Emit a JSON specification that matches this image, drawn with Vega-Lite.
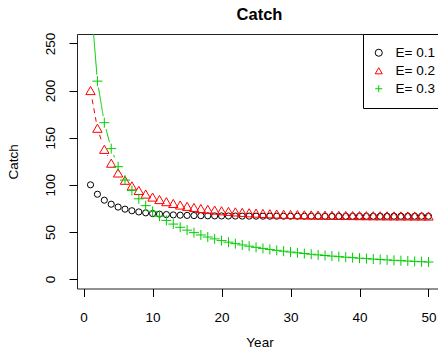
{
  "$schema": "https://vega.github.io/schema/vega-lite/v6.json",
  "autosize": {"type": "none"},
  "padding": {"left": 77, "top": 34, "right": 0, "bottom": 71},
  "width": 365,
  "height": 254.5,
  "background": "white",
  "title": {"text": "Catch", "fontSize": 16.5, "fontWeight": "bold", "font": "Liberation Sans", "anchor": "middle", "offset": 9, "color": "black"},
  "config": {
    "view": {"stroke": "#222", "strokeWidth": 1},
    "axis": {"labelFont": "Liberation Sans", "labelFontSize": 13.5, "titleFont": "Liberation Sans", "titleFontSize": 13.5, "titleFontWeight": "normal", "labelColor": "black", "titleColor": "black", "domain": false, "grid": false, "labelFlush": false, "labelOverlap": false}
  },
  "datasets": {
    "catch": [
      {"Year":1,"E":"E= 0.1","Catch":100},{"Year":2,"E":"E= 0.1","Catch":90},{"Year":3,"E":"E= 0.1","Catch":83.7},{"Year":4,"E":"E= 0.1","Catch":79.42},{"Year":5,"E":"E= 0.1","Catch":76.38},{"Year":6,"E":"E= 0.1","Catch":74.16},{"Year":7,"E":"E= 0.1","Catch":72.49},{"Year":8,"E":"E= 0.1","Catch":71.22},{"Year":9,"E":"E= 0.1","Catch":70.25},{"Year":10,"E":"E= 0.1","Catch":69.5},
      {"Year":11,"E":"E= 0.1","Catch":68.91},{"Year":12,"E":"E= 0.1","Catch":68.44},{"Year":13,"E":"E= 0.1","Catch":68.08},{"Year":14,"E":"E= 0.1","Catch":67.79},{"Year":15,"E":"E= 0.1","Catch":67.56},{"Year":16,"E":"E= 0.1","Catch":67.38},{"Year":17,"E":"E= 0.1","Catch":67.24},{"Year":18,"E":"E= 0.1","Catch":67.12},{"Year":19,"E":"E= 0.1","Catch":67.03},{"Year":20,"E":"E= 0.1","Catch":66.96},
      {"Year":21,"E":"E= 0.1","Catch":66.9},{"Year":22,"E":"E= 0.1","Catch":66.85},{"Year":23,"E":"E= 0.1","Catch":66.81},{"Year":24,"E":"E= 0.1","Catch":66.79},{"Year":25,"E":"E= 0.1","Catch":66.76},{"Year":26,"E":"E= 0.1","Catch":66.74},{"Year":27,"E":"E= 0.1","Catch":66.73},{"Year":28,"E":"E= 0.1","Catch":66.72},{"Year":29,"E":"E= 0.1","Catch":66.71},{"Year":30,"E":"E= 0.1","Catch":66.7},
      {"Year":31,"E":"E= 0.1","Catch":66.7},{"Year":32,"E":"E= 0.1","Catch":66.69},{"Year":33,"E":"E= 0.1","Catch":66.69},{"Year":34,"E":"E= 0.1","Catch":66.68},{"Year":35,"E":"E= 0.1","Catch":66.68},{"Year":36,"E":"E= 0.1","Catch":66.67},{"Year":37,"E":"E= 0.1","Catch":66.67},{"Year":38,"E":"E= 0.1","Catch":66.67},{"Year":39,"E":"E= 0.1","Catch":66.67},{"Year":40,"E":"E= 0.1","Catch":66.67},
      {"Year":41,"E":"E= 0.1","Catch":66.67},{"Year":42,"E":"E= 0.1","Catch":66.67},{"Year":43,"E":"E= 0.1","Catch":66.67},{"Year":44,"E":"E= 0.1","Catch":66.67},{"Year":45,"E":"E= 0.1","Catch":66.67},{"Year":46,"E":"E= 0.1","Catch":66.67},{"Year":47,"E":"E= 0.1","Catch":66.67},{"Year":48,"E":"E= 0.1","Catch":66.67},{"Year":49,"E":"E= 0.1","Catch":66.67},{"Year":50,"E":"E= 0.1","Catch":66.67},
      {"Year":1,"E":"E= 0.2","Catch":200},{"Year":2,"E":"E= 0.2","Catch":160},{"Year":3,"E":"E= 0.2","Catch":137.6},{"Year":4,"E":"E= 0.2","Catch":122.96},{"Year":5,"E":"E= 0.2","Catch":112.58},{"Year":6,"E":"E= 0.2","Catch":104.82},{"Year":7,"E":"E= 0.2","Catch":98.82},{"Year":8,"E":"E= 0.2","Catch":94.06},{"Year":9,"E":"E= 0.2","Catch":90.19},{"Year":10,"E":"E= 0.2","Catch":87.01},
      {"Year":11,"E":"E= 0.2","Catch":84.36},{"Year":12,"E":"E= 0.2","Catch":82.12},{"Year":13,"E":"E= 0.2","Catch":80.21},{"Year":14,"E":"E= 0.2","Catch":78.58},{"Year":15,"E":"E= 0.2","Catch":77.18},{"Year":16,"E":"E= 0.2","Catch":75.96},{"Year":17,"E":"E= 0.2","Catch":74.9},{"Year":18,"E":"E= 0.2","Catch":73.98},{"Year":19,"E":"E= 0.2","Catch":73.17},{"Year":20,"E":"E= 0.2","Catch":72.45},
      {"Year":21,"E":"E= 0.2","Catch":71.82},{"Year":22,"E":"E= 0.2","Catch":71.27},{"Year":23,"E":"E= 0.2","Catch":70.78},{"Year":24,"E":"E= 0.2","Catch":70.34},{"Year":25,"E":"E= 0.2","Catch":69.95},{"Year":26,"E":"E= 0.2","Catch":69.61},{"Year":27,"E":"E= 0.2","Catch":69.3},{"Year":28,"E":"E= 0.2","Catch":69.03},{"Year":29,"E":"E= 0.2","Catch":68.78},{"Year":30,"E":"E= 0.2","Catch":68.56},
      {"Year":31,"E":"E= 0.2","Catch":68.37},{"Year":32,"E":"E= 0.2","Catch":68.19},{"Year":33,"E":"E= 0.2","Catch":68.04},{"Year":34,"E":"E= 0.2","Catch":67.9},{"Year":35,"E":"E= 0.2","Catch":67.77},{"Year":36,"E":"E= 0.2","Catch":67.66},{"Year":37,"E":"E= 0.2","Catch":67.56},{"Year":38,"E":"E= 0.2","Catch":67.47},{"Year":39,"E":"E= 0.2","Catch":67.39},{"Year":40,"E":"E= 0.2","Catch":67.31},
      {"Year":41,"E":"E= 0.2","Catch":67.25},{"Year":42,"E":"E= 0.2","Catch":67.19},{"Year":43,"E":"E= 0.2","Catch":67.14},{"Year":44,"E":"E= 0.2","Catch":67.09},{"Year":45,"E":"E= 0.2","Catch":67.05},{"Year":46,"E":"E= 0.2","Catch":67.01},{"Year":47,"E":"E= 0.2","Catch":66.97},{"Year":48,"E":"E= 0.2","Catch":66.94},{"Year":49,"E":"E= 0.2","Catch":66.92},{"Year":50,"E":"E= 0.2","Catch":66.89},
      {"Year":1,"E":"E= 0.3","Catch":300},{"Year":2,"E":"E= 0.3","Catch":210},{"Year":3,"E":"E= 0.3","Catch":165.9},{"Year":4,"E":"E= 0.3","Catch":138.38},{"Year":5,"E":"E= 0.3","Catch":119.23},{"Year":6,"E":"E= 0.3","Catch":105.01},{"Year":7,"E":"E= 0.3","Catch":93.99},{"Year":8,"E":"E= 0.3","Catch":85.15},{"Year":9,"E":"E= 0.3","Catch":77.9},{"Year":10,"E":"E= 0.3","Catch":71.83},
      {"Year":11,"E":"E= 0.3","Catch":66.67},{"Year":12,"E":"E= 0.3","Catch":62.23},{"Year":13,"E":"E= 0.3","Catch":58.36},{"Year":14,"E":"E= 0.3","Catch":54.95},{"Year":15,"E":"E= 0.3","Catch":51.93},{"Year":16,"E":"E= 0.3","Catch":49.23},{"Year":17,"E":"E= 0.3","Catch":46.81},{"Year":18,"E":"E= 0.3","Catch":44.62},{"Year":19,"E":"E= 0.3","Catch":42.63},{"Year":20,"E":"E= 0.3","Catch":40.81},
      {"Year":21,"E":"E= 0.3","Catch":39.15},{"Year":22,"E":"E= 0.3","Catch":37.61},{"Year":23,"E":"E= 0.3","Catch":36.2},{"Year":24,"E":"E= 0.3","Catch":34.89},{"Year":25,"E":"E= 0.3","Catch":33.67},{"Year":26,"E":"E= 0.3","Catch":32.54},{"Year":27,"E":"E= 0.3","Catch":31.48},{"Year":28,"E":"E= 0.3","Catch":30.49},{"Year":29,"E":"E= 0.3","Catch":29.56},{"Year":30,"E":"E= 0.3","Catch":28.68},
      {"Year":31,"E":"E= 0.3","Catch":27.86},{"Year":32,"E":"E= 0.3","Catch":27.09},{"Year":33,"E":"E= 0.3","Catch":26.35},{"Year":34,"E":"E= 0.3","Catch":25.66},{"Year":35,"E":"E= 0.3","Catch":25},{"Year":36,"E":"E= 0.3","Catch":24.37},{"Year":37,"E":"E= 0.3","Catch":23.78},{"Year":38,"E":"E= 0.3","Catch":23.22},{"Year":39,"E":"E= 0.3","Catch":22.68},{"Year":40,"E":"E= 0.3","Catch":22.16},
      {"Year":41,"E":"E= 0.3","Catch":21.67},{"Year":42,"E":"E= 0.3","Catch":21.2},{"Year":43,"E":"E= 0.3","Catch":20.75},{"Year":44,"E":"E= 0.3","Catch":20.32},{"Year":45,"E":"E= 0.3","Catch":19.91},{"Year":46,"E":"E= 0.3","Catch":19.51},{"Year":47,"E":"E= 0.3","Catch":19.13},{"Year":48,"E":"E= 0.3","Catch":18.77},{"Year":49,"E":"E= 0.3","Catch":18.41},{"Year":50,"E":"E= 0.3","Catch":18.07}
    ]
  },
  "data": {"name": "catch"},
  "encoding": {
    "x": {"field": "Year", "type": "quantitative", "scale": {"domain": [-0.96, 51.96], "nice": false, "zero": false},
      "axis": {"values": [0, 10, 20, 30, 40, 50], "title": "Year", "ticks": true, "tickColor": "#000000", "tickWidth": 1, "tickSize": 8, "labelBaseline": "top", "labelPadding": 14, "titlePadding": 11}},
    "y": {"field": "Catch", "type": "quantitative", "scale": {"domain": [-10, 260], "nice": false, "zero": false},
      "axis": {"values": [0, 50, 100, 150, 200, 250], "title": "Catch", "ticks": true, "tickColor": "#000000", "tickWidth": 1, "tickSize": 8, "labelAngle": -90, "labelAlign": "center", "labelBaseline": "bottom", "labelPadding": 12, "titlePadding": 23}}
  },
  "layer": [
    {
      "transform": [{"filter": "datum.E !== 'E= 0.1'"}],
      "mark": {"type": "line", "clip": true, "strokeWidth": 1},
      "encoding": {
        "detail": {"field": "E"},
        "stroke": {"condition": {"test": "datum.E === 'E= 0.2'", "value": "#FF0000"}, "value": "#00CD00"},
        "strokeDash": {"condition": {"test": "datum.E === 'E= 0.2'", "value": [5, 4]}, "value": [1, 0]}
      }
    },
    {
      "transform": [{"filter": "datum.E !== 'E= 0.1'"}],
      "mark": {"type": "point", "clip": true, "filled": true, "shape": "circle", "size": 180, "color": "white", "opacity": 1, "strokeWidth": 0}
    },
    {
      "mark": {"type": "point", "clip": true, "filled": false, "strokeWidth": 1, "opacity": 1},
      "encoding": {
        "color": {"field": "E", "type": "nominal",
          "scale": {"domain": ["E= 0.1", "E= 0.2", "E= 0.3"], "range": ["#000000", "#FF0000", "#00CD00"]},
          "legend": {"title": null, "orient": "none", "legendX": 286, "legendY": 0, "strokeColor": "black", "fillColor": "white", "padding": 12, "rowPadding": 3, "labelFontSize": 13.5, "labelFont": "Liberation Sans", "labelColor": "black", "labelOffset": 10, "symbolOffset": -3, "symbolSize": 50, "symbolStrokeWidth": 1, "symbolFillColor": "transparent", "cornerRadius": 0}},
        "shape": {"field": "E", "type": "nominal",
          "scale": {"domain": ["E= 0.1", "E= 0.2", "E= 0.3"], "range": ["circle", "triangle-up", "M-1,0L1,0M0,-1L0,1"]},
          "legend": {"title": null, "orient": "none", "legendX": 286, "legendY": 0, "strokeColor": "black", "fillColor": "white", "padding": 12, "rowPadding": 3, "labelFontSize": 13.5, "labelFont": "Liberation Sans", "labelColor": "black", "labelOffset": 10, "symbolOffset": -3, "symbolSize": 50, "symbolStrokeWidth": 1, "symbolFillColor": "transparent", "cornerRadius": 0}},
        "size": {"condition": [{"test": "datum.E === 'E= 0.1'", "value": 38}, {"test": "datum.E === 'E= 0.2'", "value": 88}], "value": 100}
      }
    }
  ]
}
